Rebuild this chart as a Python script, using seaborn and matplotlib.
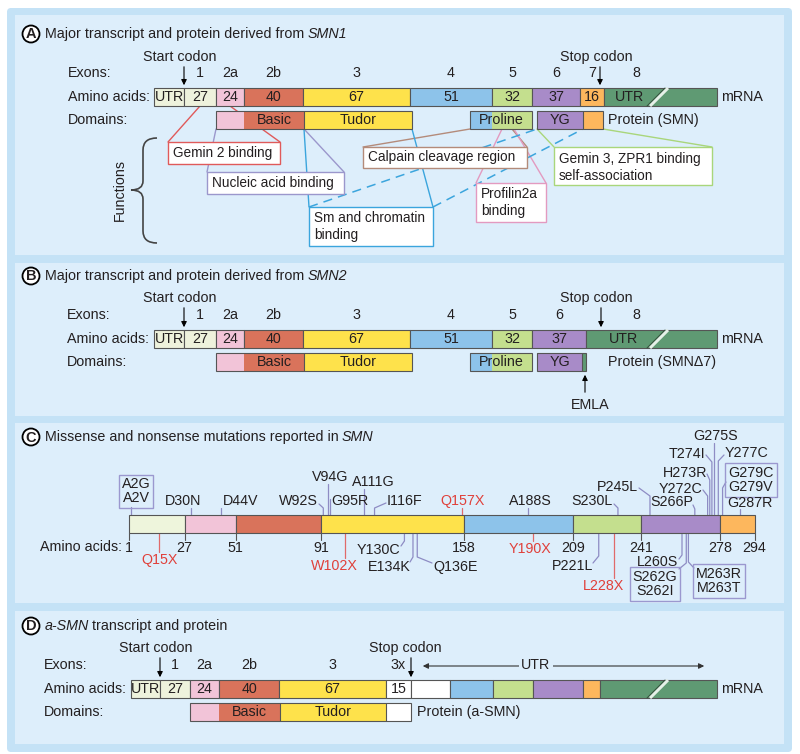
import re
import numpy as np
import matplotlib
matplotlib.use("Agg")
import matplotlib.pyplot as plt
from matplotlib import font_manager
from matplotlib.patches import Rectangle, Circle, FancyBboxPatch, PathPatch
from matplotlib.path import Path
import seaborn as sns

# ---------------- data ----------------
exons_smn1 = ["1", "2a", "2b", "3", "4", "5", "6", "7", "8"]
aa_smn1 = ["UTR", "27", "24", "40", "67", "51", "32", "37", "16", "UTR"]
exons_smn2 = ["1", "2a", "2b", "3", "4", "5", "6", "8"]
aa_smn2 = ["UTR", "27", "24", "40", "67", "51", "32", "37", "UTR"]
exons_asmn = ["1", "2a", "2b", "3", "3x"]
aa_asmn = ["UTR", "27", "24", "40", "67", "15", "", "", "", "", "", ""]

functions = ["Gemin 2 binding", "Nucleic acid binding", "Calpain cleavage region",
             "Profilin2a\nbinding", "Sm and chromatin\nbinding",
             "Gemin 3, ZPR1 binding\nself-association"]

aa_boundaries = [1, 27, 51, 91, 158, 209, 241, 278, 294]
mut_above = ["A2G\nA2V", "D30N", "D44V", "W92S", "V94G", "G95R", "A111G", "I116F",
             "Q157X", "A188S", "S230L", "P245L", "S266P", "Y272C", "H273R", "T274I",
             "G275S", "Y277C", "G279C\nG279V", "G287R"]
mut_below = ["Q15X", "W102X", "Y130C", "E134K", "Q136E", "Y190X", "P221L", "L228X",
             "L260S", "S262G\nS262I", "M263R\nM263T"]

# ---------------- style ----------------
CREAM, PINK, RED, YEL = "#eef2dc", "#f2c4d8", "#d9735b", "#fee24b"
BLUE, GRN, PUR, ORA, DKG = "#8dc3ea", "#c4df8e", "#a88bc8", "#fdb75d", "#5f9a73"
WHITE = "#ffffff"
EDGE = "#555555"
TXT = "#231f20"
BAND, PANEL = "#c4e2f6", "#ddeefb"
LEAD = "#8e8cc4"
REDTXT = "#e0403a"

cols_smn1 = [CREAM, CREAM, PINK, RED, YEL, BLUE, GRN, PUR, ORA, DKG]
cols_smn2 = [CREAM, CREAM, PINK, RED, YEL, BLUE, GRN, PUR, DKG]
cols_asmn = [CREAM, CREAM, PINK, RED, YEL, WHITE, WHITE, BLUE, GRN, PUR, ORA, DKG]
cols_c = ["#eef5dc", PINK, RED, YEL, BLUE, GRN, PUR, ORA]

# ---------------- layout (pixels) ----------------
widths_smn1 = [30, 32, 28, 59, 107, 82, 40, 48, 24, 113]
widths_smn2 = [30, 32, 28, 59, 107, 82, 40, 54, 131]
widths_asmn = [29, 30, 29, 60, 107, 25, 39, 43, 40, 50, 17, 117]
BAR_H = 18

sns.set_theme(style="white")
avail = {f.name for f in font_manager.fontManager.ttflist}
SANS = "Liberation Sans" if "Liberation Sans" in avail else "DejaVu Sans"
NARROW = "Liberation Sans Narrow" if "Liberation Sans Narrow" in avail else SANS
FS = 10.3
NFS = 12.0 if NARROW != SANS else 10.3
plt.rcParams["font.family"] = [SANS, "DejaVu Sans"]

fig = plt.figure(figsize=(8, 7.54), dpi=100)
fig.patch.set_facecolor("white")
ax = fig.add_axes([0, 0, 1, 1])
ax.set_xlim(0, 800)
ax.set_ylim(754, 0)
ax.axis("off")
renderer = fig.canvas.get_renderer()

# backgrounds
ax.add_patch(FancyBboxPatch((7, 8), 785, 744, boxstyle="round,pad=0,rounding_size=4",
                            fc=BAND, ec="none", zorder=0))
for y0, y1 in [(15, 255), (263, 416), (423, 603), (611, 744)]:
    ax.add_patch(Rectangle((15, y0), 769, y1 - y0, fc=PANEL, ec="none", zorder=0.5))


def txt(x, y, s, fam=None, size=FS, **kw):
    kw.setdefault("ha", "center")
    kw.setdefault("va", "center")
    kw.setdefault("color", TXT)
    kw.setdefault("zorder", 6)
    return ax.text(x, y, s, fontsize=size, family=[fam or SANS, "DejaVu Sans"], **kw)


def title(letter, y, parts, fam, size):
    ax.add_patch(Circle((31, y), 8.5, fc="white", ec="black", lw=1.3, zorder=6))
    txt(31, y + 0.5, letter, fam=SANS, size=10.5, weight="bold")
    x = 45
    for s, style in parts:
        t = txt(x, y, s, fam=fam, size=size, ha="left", style=style)
        x += t.get_window_extent(renderer=renderer).width + size * 0.3


def transcript(lay, widths, colors, aa_labels, exon_labels, fam, size):
    lefts = lay["x0"] + np.concatenate([[0], np.cumsum(widths)[:-1]])
    centers = lefts + np.array(widths) / 2
    ax.barh(lay["y_aa"], widths, left=lefts, height=BAR_H, color=colors,
            edgecolor=EDGE, linewidth=0.8, zorder=3)
    for i, lab in enumerate(aa_labels):
        if lab:
            x = lay["utr_x"] if (i == len(aa_labels) - 1 and i > 0 and lab == "UTR") else centers[i]
            txt(x, lay["y_aa"], lab, fam=fam, size=size)
    for j, lab in enumerate(exon_labels):
        x = lay.get("exon_x", {}).get(lab, centers[j + 1])
        txt(x, lay["y_ex"], lab, fam=fam, size=size)
    yb, yt = lay["y_aa"] + BAR_H / 2, lay["y_aa"] - BAR_H / 2
    ax.plot([650, 668], [yb, yt], color="#e6f0e8", lw=2.2, zorder=4, solid_capstyle="butt")
    ax.plot([647, 665], [yb, yt], color="#34503c", lw=0.7, zorder=4)
    xl = lay["x_lab"]
    txt(xl, lay["y_ex"], "Exons:", fam=fam, size=size, ha="left")
    txt(xl, lay["y_aa"], "Amino acids:", fam=fam, size=size, ha="left")
    txt(xl, lay["y_dom"], "Domains:", fam=fam, size=size, ha="left")
    txt(lay["x0"] + sum(widths) + 4, lay["y_aa"], "mRNA", fam=fam, size=size, ha="left")
    # start / stop codons
    ys = lay["y_start"]
    txt(lay["start_x"] - 4, ys, "Start codon", fam=fam, size=size)
    ax.annotate("", xy=(lay["start_x"], yt), xytext=(lay["start_x"], ys + 7),
                arrowprops=dict(arrowstyle="-|>", color="black", lw=0.8, mutation_scale=8),
                zorder=6)
    txt(lay["stop_tx"], ys, "Stop codon", fam=fam, size=size)
    ax.annotate("", xy=(lay["stop_x"], yt), xytext=(lay["stop_x"], ys + 7),
                arrowprops=dict(arrowstyle="-|>", color="black", lw=0.8, mutation_scale=8),
                zorder=6)


def domains(y, doms, outlines, seps, fam, size):
    for name, x0, x1, c in doms:
        ax.add_patch(Rectangle((x0, y - BAR_H / 2), x1 - x0, BAR_H, fc=c, ec="none", zorder=3))
    for x0, x1 in outlines:
        ax.add_patch(Rectangle((x0, y - BAR_H / 2), x1 - x0, BAR_H, fc="none", ec=EDGE,
                               lw=0.8, zorder=3.5))
    for x in seps:
        ax.plot([x, x], [y - BAR_H / 2, y + BAR_H / 2], color=EDGE, lw=0.8, zorder=3.5)


# ================= Panel A =================
lay_a = dict(x0=154, y_aa=97, y_ex=73, y_dom=120, y_start=57, x_lab=68,
             utr_x=629, exon_x={"8": 636}, start_x=184, stop_x=600, stop_tx=596)
title("A", 34, [("Major transcript and protein derived from", "normal"), ("SMN1", "italic")],
      SANS, FS)
transcript(lay_a, widths_smn1, cols_smn1, aa_smn1, exons_smn1, SANS, FS)
doms_a = [("", 216, 244, PINK), ("Basic", 244, 304, RED), ("Tudor", 304, 412, YEL),
          ("", 470, 492, BLUE), ("", 492, 532, GRN), ("YG", 537, 583, PUR), ("", 583, 603, ORA)]
domains(120, doms_a, [(216, 412), (470, 532), (537, 603)], [304, 583], SANS, FS)
for s, x in [("Basic", 274), ("Tudor", 358), ("Proline", 501), ("YG", 560)]:
    txt(x, 120, s)
txt(608, 120, "Protein (SMN)", ha="left")

# function boxes: (x0, y0, x1, y1, colour, solid links, dashed links)
fbox = [
    (168, 142, 280, 164, "#e05a5a", [((168, 142), (200, 106)), ((280, 142), (230, 106))], []),
    (207, 172, 344, 194, "#9b97cc", [((207, 172), (216, 129)), ((344, 172), (304, 129))], []),
    (363, 147, 527, 168, "#b48b7a", [((363, 147), (470, 129)), ((527, 147), (512, 129))], []),
    (476, 183, 546, 222, "#e39ac0", [((476, 183), (502, 129)), ((546, 183), (514, 129))], []),
    (309, 207, 433, 246, "#3ba5dd", [((309, 207), (304, 129)), ((433, 207), (412, 129))],
     [((309, 207), (537, 129)), ((433, 207), (583, 129))]),
    (554, 147, 712, 185, "#a9d67b", [((554, 147), (537, 129)), ((712, 147), (603, 129))], []),
]
for name, (x0, y0, x1, y1, c, links, dashed) in zip(functions, fbox):
    ax.add_patch(Rectangle((x0, y0), x1 - x0, y1 - y0, fc="white", ec=c, lw=1.0, zorder=5))
    lines = name.split("\n")
    if len(lines) == 1:
        txt(x0 + 5, (y0 + y1) / 2, name, size=9.8, ha="left")
    else:
        for k, ln in enumerate(lines):
            txt(x0 + 5, y0 + 11.5 + 17 * k, ln, size=9.8, ha="left")
    for p, q in links:
        ax.plot([p[0], q[0]], [p[1], q[1]], color=c, lw=1.0, zorder=2)
    for p, q in dashed:
        ax.plot([p[0], q[0]], [p[1], q[1]], color=c, lw=1.1, ls=(0, (6, 4)), zorder=2)

# brace + "Functions"
verts = [(157, 138), (143, 138), (143, 150), (143, 181), (143, 190), (131, 190),
         (143, 190), (143, 199), (143, 231), (143, 243), (157, 243)]
codes = [Path.MOVETO, Path.CURVE3, Path.CURVE3, Path.LINETO, Path.CURVE3, Path.CURVE3,
         Path.CURVE3, Path.CURVE3, Path.LINETO, Path.CURVE3, Path.CURVE3]
ax.add_patch(PathPatch(Path(verts, codes), fc="none", ec="#444444", lw=1.2, zorder=4))
txt(120, 190, "Functions", rotation=90)

# ================= Panel B =================
lay_b = dict(x0=154, y_aa=339, y_ex=315, y_dom=362, y_start=298, x_lab=67,
             utr_x=624, exon_x={"8": 636}, start_x=184, stop_x=601, stop_tx=596)
title("B", 276, [("Major transcript and protein derived from", "normal"), ("SMN2", "italic")],
      NARROW, NFS)
transcript(lay_b, widths_smn2, cols_smn2, aa_smn2, exons_smn2, NARROW, NFS)
doms_b = [("", 216, 244, PINK), ("Basic", 244, 304, RED), ("Tudor", 304, 412, YEL),
          ("", 470, 492, BLUE), ("", 492, 532, GRN), ("YG", 537, 582, PUR), ("", 582, 586, DKG)]
domains(362, doms_b, [(216, 412), (470, 532), (537, 586)], [304, 582], NARROW, NFS)
for s, x in [("Basic", 274), ("Tudor", 358), ("Proline", 501), ("YG", 560)]:
    txt(x, 362, s, fam=NARROW, size=NFS)
txt(608, 362, "Protein (SMN\u03947)", fam=NARROW, size=NFS, ha="left")
ax.annotate("", xy=(585, 372), xytext=(585, 395),
            arrowprops=dict(arrowstyle="-|>", color="black", lw=0.8, mutation_scale=8), zorder=6)
txt(590, 405, "EMLA", fam=NARROW, size=NFS)

# ================= Panel C =================
title("C", 437, [("Missense and nonsense mutations reported in", "normal"), ("SMN", "italic")],
      SANS, FS)
BAR_TOP, BAR_BOT = 515, 533
ax_c = fig.add_axes([129 / 800, (754 - BAR_BOT) / 754, 625.6 / 800, (BAR_BOT - BAR_TOP) / 754])
ax_c.set_xlim(aa_boundaries[0], aa_boundaries[-1])
ax_c.set_ylim(0, 1)
ax_c.axis("off")
starts = np.array(aa_boundaries[:-1])
spans = np.diff(aa_boundaries)
bars = ax_c.barh(0.5, spans, left=starts, height=1, color=cols_c, edgecolor=EDGE, linewidth=0.8)
for b in bars:
    b.set_clip_on(False)


def cx(aa):
    disp = ax_c.transData.transform((aa, 0.5))
    return ax.transData.inverted().transform(disp)[0]


for b in aa_boundaries:
    ax.plot([cx(b)] * 2, [BAR_BOT, BAR_BOT + 7], color=EDGE, lw=0.8, zorder=3)
    txt(cx(b), 548, str(b))
txt(122, 547, "Amino acids:", ha="right")

# label layout: (text x, text y, ha, knee y, end point or None)
above_lay = [
    (136, 491.5, "center", 507, None), (183, 501, "center", 508, None),
    (241, 501, "center", 508, None), (318, 501, "right", 508, (319, 504)),
    (330, 477, "center", 484, None), (350, 501, "center", 499, None),
    (373, 482, "center", 489, None), (387, 501, "left", 508, (386, 503)),
    (463, 501, "center", 508, None), (530, 501, "center", 508, None),
    (613, 501, "right", 508, (614, 504)), (638, 487, "right", 496, (639, 488)),
    (693, 502, "right", 509, (693, 505)), (702, 489, "right", 496, (703, 490)),
    (707, 473, "right", 480, (707, 474)), (705, 454, "right", 462, (706, 455)),
    (716, 436, "center", 443, None), (725, 453, "left", 461, (724, 455)),
    (751, 480, "center", 488, (726, 482)), (750, 503, "center", 509, None),
]
below_lay = [
    (160, 560, "center", 552, None), (334, 566, "center", 558, None),
    (400, 550, "right", 541, (401, 546)), (411, 567, "right", 557, (410, 562)),
    (433, 567, "left", 557, (432, 563)), (530, 549, "center", 541, None),
    (593, 566, "right", 556, (593, 563)), (603, 586, "center", 578, None),
    (678, 562, "right", 555, (679, 559)), (655, 584, "center", 563, (679, 569)),
    (719, 581, "center", 562, (694, 568)),
]


def mutation(label, lay, edge_y):
    tx, ty, ha, knee, end = lay
    aa = int(re.search(r"\d+", label).group())
    nonsense = label.endswith("X")
    lc = "#e06a6a" if nonsense else LEAD
    xs, ys = [cx(aa), cx(aa)], [edge_y, knee]
    if end is not None:
        xs.append(end[0])
        ys.append(end[1])
    ax.plot(xs, ys, color=lc, lw=0.9, zorder=2)
    kw = {}
    if "\n" in label:
        kw["bbox"] = dict(boxstyle="square,pad=0.2", fc="none", ec="#9b98cf", lw=1.0)
    txt(tx, ty, label, ha=ha, color=REDTXT if nonsense else TXT, linespacing=1.0, **kw)


for lab, lay in zip(mut_above, above_lay):
    mutation(lab, lay, BAR_TOP)
for lab, lay in zip(mut_below, below_lay):
    mutation(lab, lay, BAR_BOT)

# ================= Panel D =================
lay_d = dict(x0=131, y_aa=689, y_ex=665, y_dom=712, y_start=648, x_lab=44,
             utr_x=None, exon_x={}, start_x=160, stop_x=411, stop_tx=405)
title("D", 626, [("a-SMN", "italic"), ("transcript and protein", "normal")], NARROW, NFS)
transcript(lay_d, widths_asmn, cols_asmn, aa_asmn, exons_asmn, NARROW, NFS)
doms_d = [("", 190, 219, PINK), ("Basic", 219, 280, RED), ("Tudor", 280, 386, YEL),
          ("", 386, 411, WHITE)]
domains(712, doms_d, [(190, 411)], [280, 386], NARROW, NFS)
for s, x in [("Basic", 249), ("Tudor", 333)]:
    txt(x, 712, s, fam=NARROW, size=NFS)
txt(417, 712, "Protein (a-SMN)", fam=NARROW, size=NFS, ha="left")
ax.annotate("", xy=(420, 666), xytext=(707, 666),
            arrowprops=dict(arrowstyle="<|-|>", color="#333333", lw=0.8, mutation_scale=8),
            zorder=5)
txt(536, 665, "UTR", fam=NARROW, size=NFS,
    bbox=dict(boxstyle="square,pad=0.15", fc=PANEL, ec="none"))

fig.savefig("out.png", dpi=100, facecolor="white")
